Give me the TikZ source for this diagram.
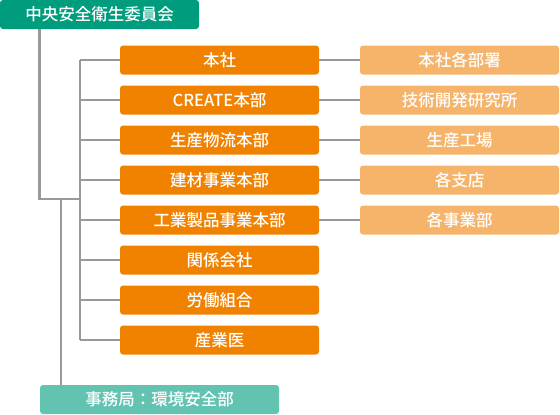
\documentclass[tikz,border=0pt]{standalone}
\usepackage{fontspec}
\newfontfamily\cjk{Noto Sans CJK JP Medium}
\usetikzlibrary{backgrounds}
\definecolor{topteal}{HTML}{009C7E}
\definecolor{botteal}{HTML}{63C3B1}
\definecolor{org}{HTML}{F08200}
\definecolor{lorg}{HTML}{F6B46B}
\definecolor{lnk}{HTML}{999999}
\tikzset{
  box/.style={rounded corners=3pt, minimum height=29pt, inner sep=0pt, text=white,
    font=\cjk\fontsize{16.5}{19}\selectfont},
  obox/.style={box, fill=org, minimum width=199pt},
  lbox/.style={box, fill=lorg, minimum width=199pt},
  link/.style={draw=lnk, line width=2.8pt}
}
\begin{document}
\begin{tikzpicture}[x=1pt,y=-1pt]
\useasboundingbox (0,0) rectangle (560,415);
\node[box, fill=topteal, minimum width=199pt] (top) at (99.5,14.5) {中央安全衛生委員会};
\node[box, fill=botteal, minimum width=239pt] (bot) at (159.5,399.5) {事務局：環境安全部};
\node[obox] (r1) at (219.5,60) {本社};
\node[obox] (r2) at (219.5,100) {CREATE本部};
\node[obox] (r3) at (219.5,140) {生産物流本部};
\node[obox] (r4) at (219.5,180) {建材事業本部};
\node[obox] (r5) at (219.5,220) {工業製品事業本部};
\node[obox] (r6) at (219.5,260) {関係会社};
\node[obox] (r7) at (219.5,300) {労働組合};
\node[obox] (r8) at (219.5,340) {産業医};
\node[lbox] (s1) at (459.5,60) {本社各部署};
\node[lbox] (s2) at (459.5,100) {技術開発研究所};
\node[lbox] (s3) at (459.5,140) {生産工場};
\node[lbox] (s4) at (459.5,180) {各支店};
\node[lbox] (s5) at (459.5,220) {各事業部};
\coordinate (j) at (80,199);
\coordinate (k) at (61,199);
\begin{scope}[on background layer]
\draw[link] ([xshift=40pt]top.south west) |- (j);
\draw[link] (k) -- (bot.north -| k);
\draw[link] (r1.west -| j) -- (r8.west -| j);
\foreach \i in {1,...,8} \draw[link] (r\i.west) -- (r\i.west -| j);
\foreach \i in {1,...,5} \draw[link] (r\i.east) -- (s\i.west);
\end{scope}
\end{tikzpicture}
\end{document}
